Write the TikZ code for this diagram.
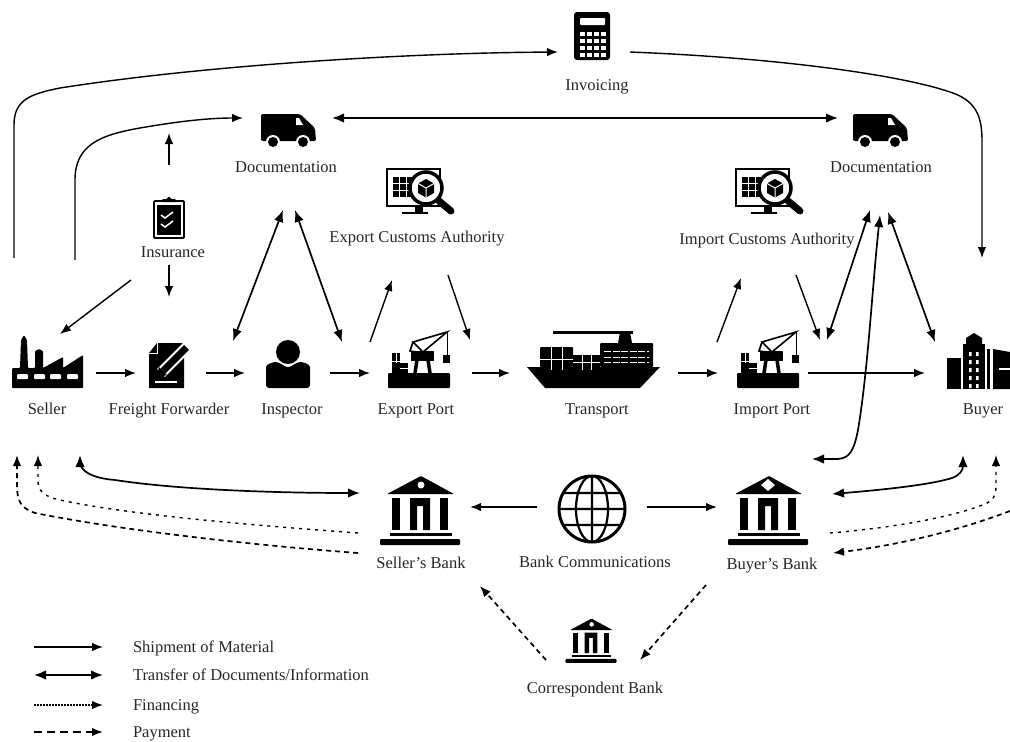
\documentclass[tikz,border=0pt]{standalone}
\usepackage{fontspec}
\setmainfont{Liberation Serif}
\usetikzlibrary{positioning,arrows.meta}
\tikzstyle{icon}=[
	rectangle,
	inner sep=0pt,
	outer sep=0pt,
	minimum width=40pt,
	minimum height=50pt]
\tikzstyle{caption}=[
	inner sep=0pt,
	outer sep=0pt,
	text=black!85,
	font=\fontsize{16.5}{18}\selectfont,
	text height=12.5pt,
	text depth=3.5pt]
\tikzstyle{legendtext}=[caption, anchor=west, text height=15pt]
\tikzstyle{shipment}=[-{Latex[length=11pt,width=8.5pt]},line width=1.4pt]
\tikzstyle{transfer}=[{Latex[length=12pt,width=9.5pt]}-{Latex[length=12pt,width=9.5pt]},line width=1.7pt]
\tikzstyle{financing}=[-{Latex[length=11pt,width=8.5pt]},line width=1.4pt,dash pattern=on 3pt off 5pt]
\tikzstyle{payment}=[-{Latex[length=11pt,width=8.5pt]},line width=1.7pt,dash pattern=on 5pt off 4pt]
\tikzset{
	factory/.pic={
		\fill[rounded corners=1pt] (-35,26) -- (-35,6) -- (-27,6) -- (-26,-22) -- (-23,-27) -- (-20,-22) -- (-19,6) -- (-12,6) -- (-12,-11) -- (-8,-13) -- (-4,-11) -- (-4,6) -- (16,-5) -- (16,6) -- (36,-7) -- (36,26) -- cycle;
		\foreach \w in {-30,-13,3,20} \fill[white,rounded corners=1pt] (\w,12) rectangle +(11,5);
	},
	form/.pic={
		\fill (-20,26) -- (15,26) -- (15,-19) -- (-12,-19) -- (-20,-9) -- cycle;
		\draw[white,line width=1pt] (-12,-19) -- (-12,-9) -- (-20,-9);
		\draw[white,line width=2pt] (-14,20) -- (8,20);
		\draw[white,line width=11pt] (-8,11) -- (19,-16);
		\draw[line width=7pt] (-6,9) -- (18,-15);
		\fill (-13,16) -- (-10,5) -- (-2,13) -- cycle;
		\draw[white,line width=1pt] (13,-20) -- (21,-12);
	},
	person/.pic={
		\fill (0,-10) circle (12);
		\fill[rounded corners=3pt] (-22,26) -- (-22,8) .. controls (-22,2) and (-14,0) .. (-10,0) -- (0,6) -- (10,0) .. controls (14,0) and (22,2) .. (22,8) -- (22,26) -- cycle;
	},
	port/.pic={
		\fill[rounded corners=1pt] (-31,11) rectangle (31,26);
		\fill (-27,-9) rectangle (-19,11);
		\fill (-19,1) rectangle (-11,11);
		\draw[white,line width=.7pt] (-27,-1) -- (-19,-1) (-23,-9) -- (-23,1) (-19,6) -- (-11,6);
		\fill (-8,-11) rectangle (15,-1);
		\draw[line width=3.5pt] (-2,-2) -- (-4,11) (9,-2) -- (11,11);
		\draw[line width=1.6pt] (-6,-20) -- (28,-30) -- (4,-10) -- cycle (-6,-20) -- (-9,-11) -- (-2,-10);
		\draw[line width=1pt] (28,-30) -- (28,-7);
		\fill (24,-7) rectangle (31,1);
	},
	ship/.pic={
		\fill (-66,5) -- (67,5) -- (47,26) -- (-48,26) -- cycle;
		\fill[rounded corners=1pt] (-53,-15) rectangle (-20,5);
		\fill (-20,-7) rectangle (7,5);
		\fill[rounded corners=1pt] (7,-19) rectangle (60,5);
		\draw[line width=3pt] (-40,-30) -- (40,-30);
		\fill (27,-30) -- (37,-30) -- (39,-19) -- (25,-19) -- cycle;
		\draw[white,line width=.8pt] (-42,-15) -- (-42,8) (-31,-15) -- (-31,8) (-53,-3) -- (-20,-3) (-11,-7) -- (-11,8) (-2,-7) -- (-2,8) (-20,0) -- (7,0);
		\draw[white,line width=1pt,dash pattern=on 7pt off 1.5pt] (11,-11) -- (56,-11) (11,-5) -- (56,-5) (11,0) -- (56,0);
	},
	tower/.pic={
		\fill (-38,-4) rectangle (-24,27);
		\fill (-22,-18) rectangle (0,27);
		\fill (-19,-18) -- (-19,-24) -- (-11,-29) -- (-3,-24) -- (-3,-18) -- cycle;
		\fill (2,-13) rectangle (5,27);
		\fill (8,-13) -- (25,-10) -- (25,27) -- (8,27) -- cycle;
		\foreach \j in {-10,-2,...,22} \fill[white] (-16,\j) rectangle +(2.5,4) (-9,\j) rectangle +(2.5,4);
		\fill[white] (14,6) rectangle (25,8);
	},
	bank/.pic={
		\fill[rounded corners=1pt] (-33,-17) -- (1,-35) -- (34,-17) -- cycle;
		\fill[white] (1,-26) circle (3.5);
		\fill (-28,-13) rectangle (-20,19);
		\fill (20,-13) rectangle (28,19);
		\fill (-10,19) -- (-10,-13) -- (10,-13) -- (10,19) -- (3,19) -- (3,-5) -- (-3,-5) -- (-3,19) -- cycle;
		\fill (-30,22) rectangle (32,25);
		\fill[rounded corners=1pt] (-40,28) rectangle (40,34);
	},
	globe/.pic={
		\draw[line width=3pt] (0,0) circle (33);
		\draw[line width=2.2pt] (0,0) ellipse (16 and 33) (0,-33) -- (0,33) (-33,0) -- (33,0) (-29,-16) -- (29,-16) (-29,16) -- (29,16);
	},
	van/.pic={
		\fill[rounded corners=2pt] (-27,-17) -- (12,-17) -- (27,-3) -- (28,10) -- (-27,10) -- cycle;
		\fill[white] (8,-13) -- (11,-13) -- (15,-6) -- (8,-6) -- cycle;
		\foreach \w in {-15,15} {
			\fill[white] (\w,11) circle (7);
			\fill (\w,11) circle (5);
		}
	},
	calculator/.pic={
		\fill[rounded corners=3pt] (-18,-24) rectangle (18,24);
		\fill[white,rounded corners=1pt] (-12,-18) rectangle (13,-11);
		\foreach \j in {-4,3,10,17} \foreach \w in {-12,-5,2,9} \fill[white] (\w,\j) rectangle +(4.5,3.5);
	},
	clipboard/.pic={
		\draw[line width=1.8pt,rounded corners=1pt] (-15,-17) rectangle (15,20);
		\fill (-12,-13) rectangle (12,17);
		\fill[rounded corners=1pt] (-7,-16) -- (-7,-19) -- (-2,-19) -- (0,-22) -- (2,-19) -- (7,-19) -- (7,-16) -- cycle;
		\draw[white,line width=1.5pt] (-8,-3) -- (-4,0) -- (4,-6) (-8,6) -- (-4,9) -- (4,3);
	},
	inspection/.pic={
		\draw[line width=2.5pt] (-33,-22) rectangle (20,15);
		\foreach \j in {-14,-7,0} \foreach \w in {-27,-20,-13} \fill (\w,\j) rectangle +(5.5,5.5);
		\fill (-5,15) rectangle (3,21);
		\draw[line width=2.5pt] (-18,22) -- (8,22);
		\draw[line width=3.5pt,fill=white] (6,-3) circle (16);
		\fill (6,-12) -- (14,-7.5) -- (14,2) -- (6,6.5) -- (-2,2) -- (-2,-7.5) -- cycle;
		\draw[white,line width=1pt] (-2,-7.5) -- (6,-3) -- (14,-7.5) (6,-3) -- (6,6.5);
		\draw[line width=7pt,line cap=round] (19,10) -- (31,20);
	}
}

\begin{document}
\begin{tikzpicture}[x=1pt,y=-1pt]
	\useasboundingbox (0,0) rectangle (1010,742);

		\node (Seller) [icon] at (47,362) {};
		\node (Forwarder) [icon, right=82pt of Seller] {};
		\node (Inspector) [icon, right=79pt of Forwarder] {};
		\node (ExportPort) [icon, right=91pt of Inspector] {};
		\node (Transport) [icon, right=134pt of ExportPort] {};
		\node (ImportPort) [icon, right=135pt of Transport] {};
		\node (Buyer) [icon, right=177pt of ImportPort] {};
		\node (Invoicing) [icon] at (592,36) {};
		\node (DocExport) [icon] at (288,131) {};
		\node (DocImport) [icon] at (880,131) {};
		\node (Insurance) [icon] at (169,218) {};
		\node (ExportCustoms) [icon] at (420,191) {};
		\node (ImportCustoms) [icon] at (769,191) {};
		\node (SellersBank) [icon] at (420,511) {};
		\node (BankComm) [icon, right=132pt of SellersBank] {};
		\node (BuyersBank) [icon, right=136pt of BankComm] {};
		\node (CorrBank) [icon] at (591,641) {};

		\pic at (Seller) {factory};
		\pic at (Forwarder) {form};
		\pic at (Inspector) {person};
		\pic at (ExportPort) {port};
		\pic at (Transport) {ship};
		\pic at (ImportPort) {port};
		\pic at (Buyer) {tower};
		\pic at (Invoicing) {calculator};
		\pic at (DocExport) {van};
		\pic at (DocImport) {van};
		\pic at (Insurance) {clipboard};
		\pic at (ExportCustoms) {inspection};
		\pic at (ImportCustoms) {inspection};
		\pic at (SellersBank) {bank};
		\pic at ([yshift=2pt]BankComm) {globe};
		\pic at (BuyersBank) {bank};
		\fill[white] ([shift={(-7,-26)}]BuyersBank.center) -- +(7,-6) -- +(14,0) -- +(7,6) -- cycle;
		\pic[scale=.64] at (CorrBank) {bank};

		\node (SellerText) [caption, below=15pt of Seller] {Seller};
		\node (ForwarderText) [caption, below=15pt of Forwarder] {Freight Forwarder};
		\node (InspectorText) [caption, below=15pt of Inspector, xshift=4pt] {Inspector};
		\node (ExportPortText) [caption, below=15pt of ExportPort, xshift=-3pt] {Export Port};
		\node (TransportText) [caption, below=15pt of Transport, xshift=4pt] {Transport};
		\node (ImportPortText) [caption, below=15pt of ImportPort, xshift=4pt] {Import Port};
		\node (BuyerText) [caption, below=15pt of Buyer, xshift=-2pt] {Buyer};
		\node (InvoicingText) [caption, below=17pt of Invoicing, xshift=5pt] {Invoicing};
		\node (DocExportText) [caption, below=4pt of DocExport, xshift=-2pt] {Documentation};
		\node (DocImportText) [caption, below=4pt of DocImport, xshift=1pt] {Documentation};
		\node (InsuranceText) [caption, below=2pt of Insurance, xshift=4pt] {Insurance};
		\node (ExportCustomsText) [caption, below=14pt of ExportCustoms, xshift=-3pt] {Export Customs Authority};
		\node (ImportCustomsText) [caption, below=16pt of ImportCustoms, xshift=-2pt] {Import Customs Authority};
		\node (SellersBankText) [caption, below=20pt of SellersBank, xshift=1pt] {Seller’s Bank};
		\node (BankCommText) [caption, below=19pt of BankComm, xshift=3pt] {Bank Communications};
		\node (BuyersBankText) [caption, below=21pt of BuyersBank, xshift=4pt] {Buyer’s Bank};
		\node (CorrBankText) [caption, below=15pt of CorrBank, xshift=4pt] {Correspondent Bank};

		\node (LegendShipment) [legendtext] at (133,647) {Shipment of Material};
		\node (LegendTransfer) [legendtext] at (133,675) {Transfer of Documents/Information};
		\node (LegendFinancing) [legendtext] at (133,705) {Financing};
		\node (LegendPayment) [legendtext] at (133,732) {Payment};

		\draw[shipment] ([xshift=-99pt]LegendShipment.west) -- ([xshift=-30pt]LegendShipment.west);
		\draw[transfer] ([xshift=-99pt]LegendTransfer.west) -- ([xshift=-30pt]LegendTransfer.west);
		\draw[financing, dash pattern=on 1.5pt off 1.5pt] ([xshift=-99pt]LegendFinancing.west) -- ([xshift=-30pt]LegendFinancing.west);
		\draw[payment, dash pattern=on 8pt off 5pt] ([xshift=-99pt]LegendPayment.west) -- ([xshift=-30pt]LegendPayment.west);

		\foreach \from/\fx/\to/\tx in {Seller/49/Forwarder/-33, Forwarder/37/Inspector/-43, Inspector/42/ExportPort/-49, ExportPort/53/Transport/-83, Transport/85/ImportPort/-50, ImportPort/40/Buyer/-60}
			\draw[shipment] ([shift={(\fx,11)}]\from.center) -- ([shift={(\tx,11)}]\to.center);

		\draw[shipment] ([shift={(-33,-104)}]Seller.center) -- (14,125) .. controls (14,100) and (30,94) .. (60,88) .. controls (200,66) and (400,53) .. ([shift={(-34,16)}]Invoicing.center);
		\draw[shipment] ([shift={(38,16)}]Invoicing.center) .. controls (780,58) and (900,75) .. (950,92) .. controls (975,100) and (982,115) .. (982,140) -- ([shift={(-3,-104)}]Buyer.center);
		\draw[shipment] ([shift={(28,-102)}]Seller.center) -- (75,180) .. controls (75,145) and (100,135) .. (140,128) .. controls (180,121) and (210,118) .. ([shift={(-45,-13)}]DocExport.center);
		\draw[transfer] ([shift={(44,-13)}]DocExport.center) -- ([shift={(-42,-13)}]DocImport.center);

		\draw[shipment] ([shift={(0,-53)}]Insurance.center) -- ([shift={(0,-85)}]Insurance.center);
		\draw[shipment] ([shift={(0,47)}]Insurance.center) -- ([shift={(0,79)}]Insurance.center);
		\draw[shipment] ([shift={(-38,62)}]Insurance.center) -- ([shift={(13,-28)}]Seller.center);

		\draw[transfer] ([shift={(-55,-21)}]Inspector.center) -- ([shift={(-5,79)}]DocExport.center);
		\draw[transfer] ([shift={(54,-20)}]Inspector.center) -- ([shift={(7,79)}]DocExport.center);
		\draw[shipment] ([shift={(-49,-20)}]ExportPort.center) -- ([shift={(-28,89)}]ExportCustoms.center);
		\draw[shipment] ([shift={(28,84)}]ExportCustoms.center) -- ([shift={(51,-22)}]ExportPort.center);
		\draw[shipment] ([shift={(-51,-20)}]ImportPort.center) -- ([shift={(-28,87)}]ImportCustoms.center);
		\draw[shipment] ([shift={(27,84)}]ImportCustoms.center) -- ([shift={(52,-22)}]ImportPort.center);
		\draw[transfer] ([shift={(59,-22)}]ImportPort.center) -- ([shift={(-10,79)}]DocImport.center);
		\draw[transfer] ([shift={(-50,-20)}]Buyer.center) -- ([shift={(8,81)}]DocImport.center);
		\draw[transfer] ([shift={(0,84)}]DocImport.center) .. controls (872,290) and (868,370) .. (858,430) .. controls (854,450) and (850,458) .. (838,459) -- ([shift={(44,-52)}]BuyersBank.center);

		\draw[transfer] ([shift={(33,93)}]Seller.center) -- (80,462) .. controls (80,470) and (90,478) .. (115,480) .. controls (180,490) and (280,493) .. ([shift={(-60,-18)}]SellersBank.center);
		\draw[financing] ([shift={(-62,22)}]SellersBank.center) .. controls (250,525) and (130,515) .. (60,500) .. controls (42,496) and (38,490) .. (38,480) -- ([shift={(-9,93)}]Seller.center);
		\draw[payment] ([shift={(-62,42)}]SellersBank.center) .. controls (250,545) and (120,530) .. (35,513) .. controls (20,508) and (17,500) .. (17,485) -- ([shift={(-30,93)}]Seller.center);

		\draw[shipment, line width=1.7pt] ([shift={(-55,-4)}]BankComm.center) -- ([shift={(50,-4)}]SellersBank.center);
		\draw[shipment, line width=1.7pt] ([shift={(55,-4)}]BankComm.center) -- ([shift={(-51,-4)}]BuyersBank.center);

		\draw[transfer] ([shift={(64,-17)}]BuyersBank.center) .. controls (880,490) and (930,485) .. (952,478) .. controls (960,475) and (963,470) .. ([shift={(-22,93)}]Buyer.center);
		\draw[financing] ([shift={(62,22)}]BuyersBank.center) .. controls (890,528) and (950,518) .. (985,504) .. controls (994,500) and (996,495) .. (996,485) -- ([shift={(11,93)}]Buyer.center);
		\draw[payment] ([shift={(25,149)}]Buyer.center) .. controls (960,530) and (900,545) .. ([shift={(65,42)}]BuyersBank.center);

		\draw[payment] ([shift={(-45,19)}]CorrBank.center) -- ([shift={(60,75)}]SellersBank.center);
		\draw[payment] ([shift={(-62,74)}]BuyersBank.center) -- ([shift={(49,19)}]CorrBank.center);

	\end{tikzpicture}
\end{document}
